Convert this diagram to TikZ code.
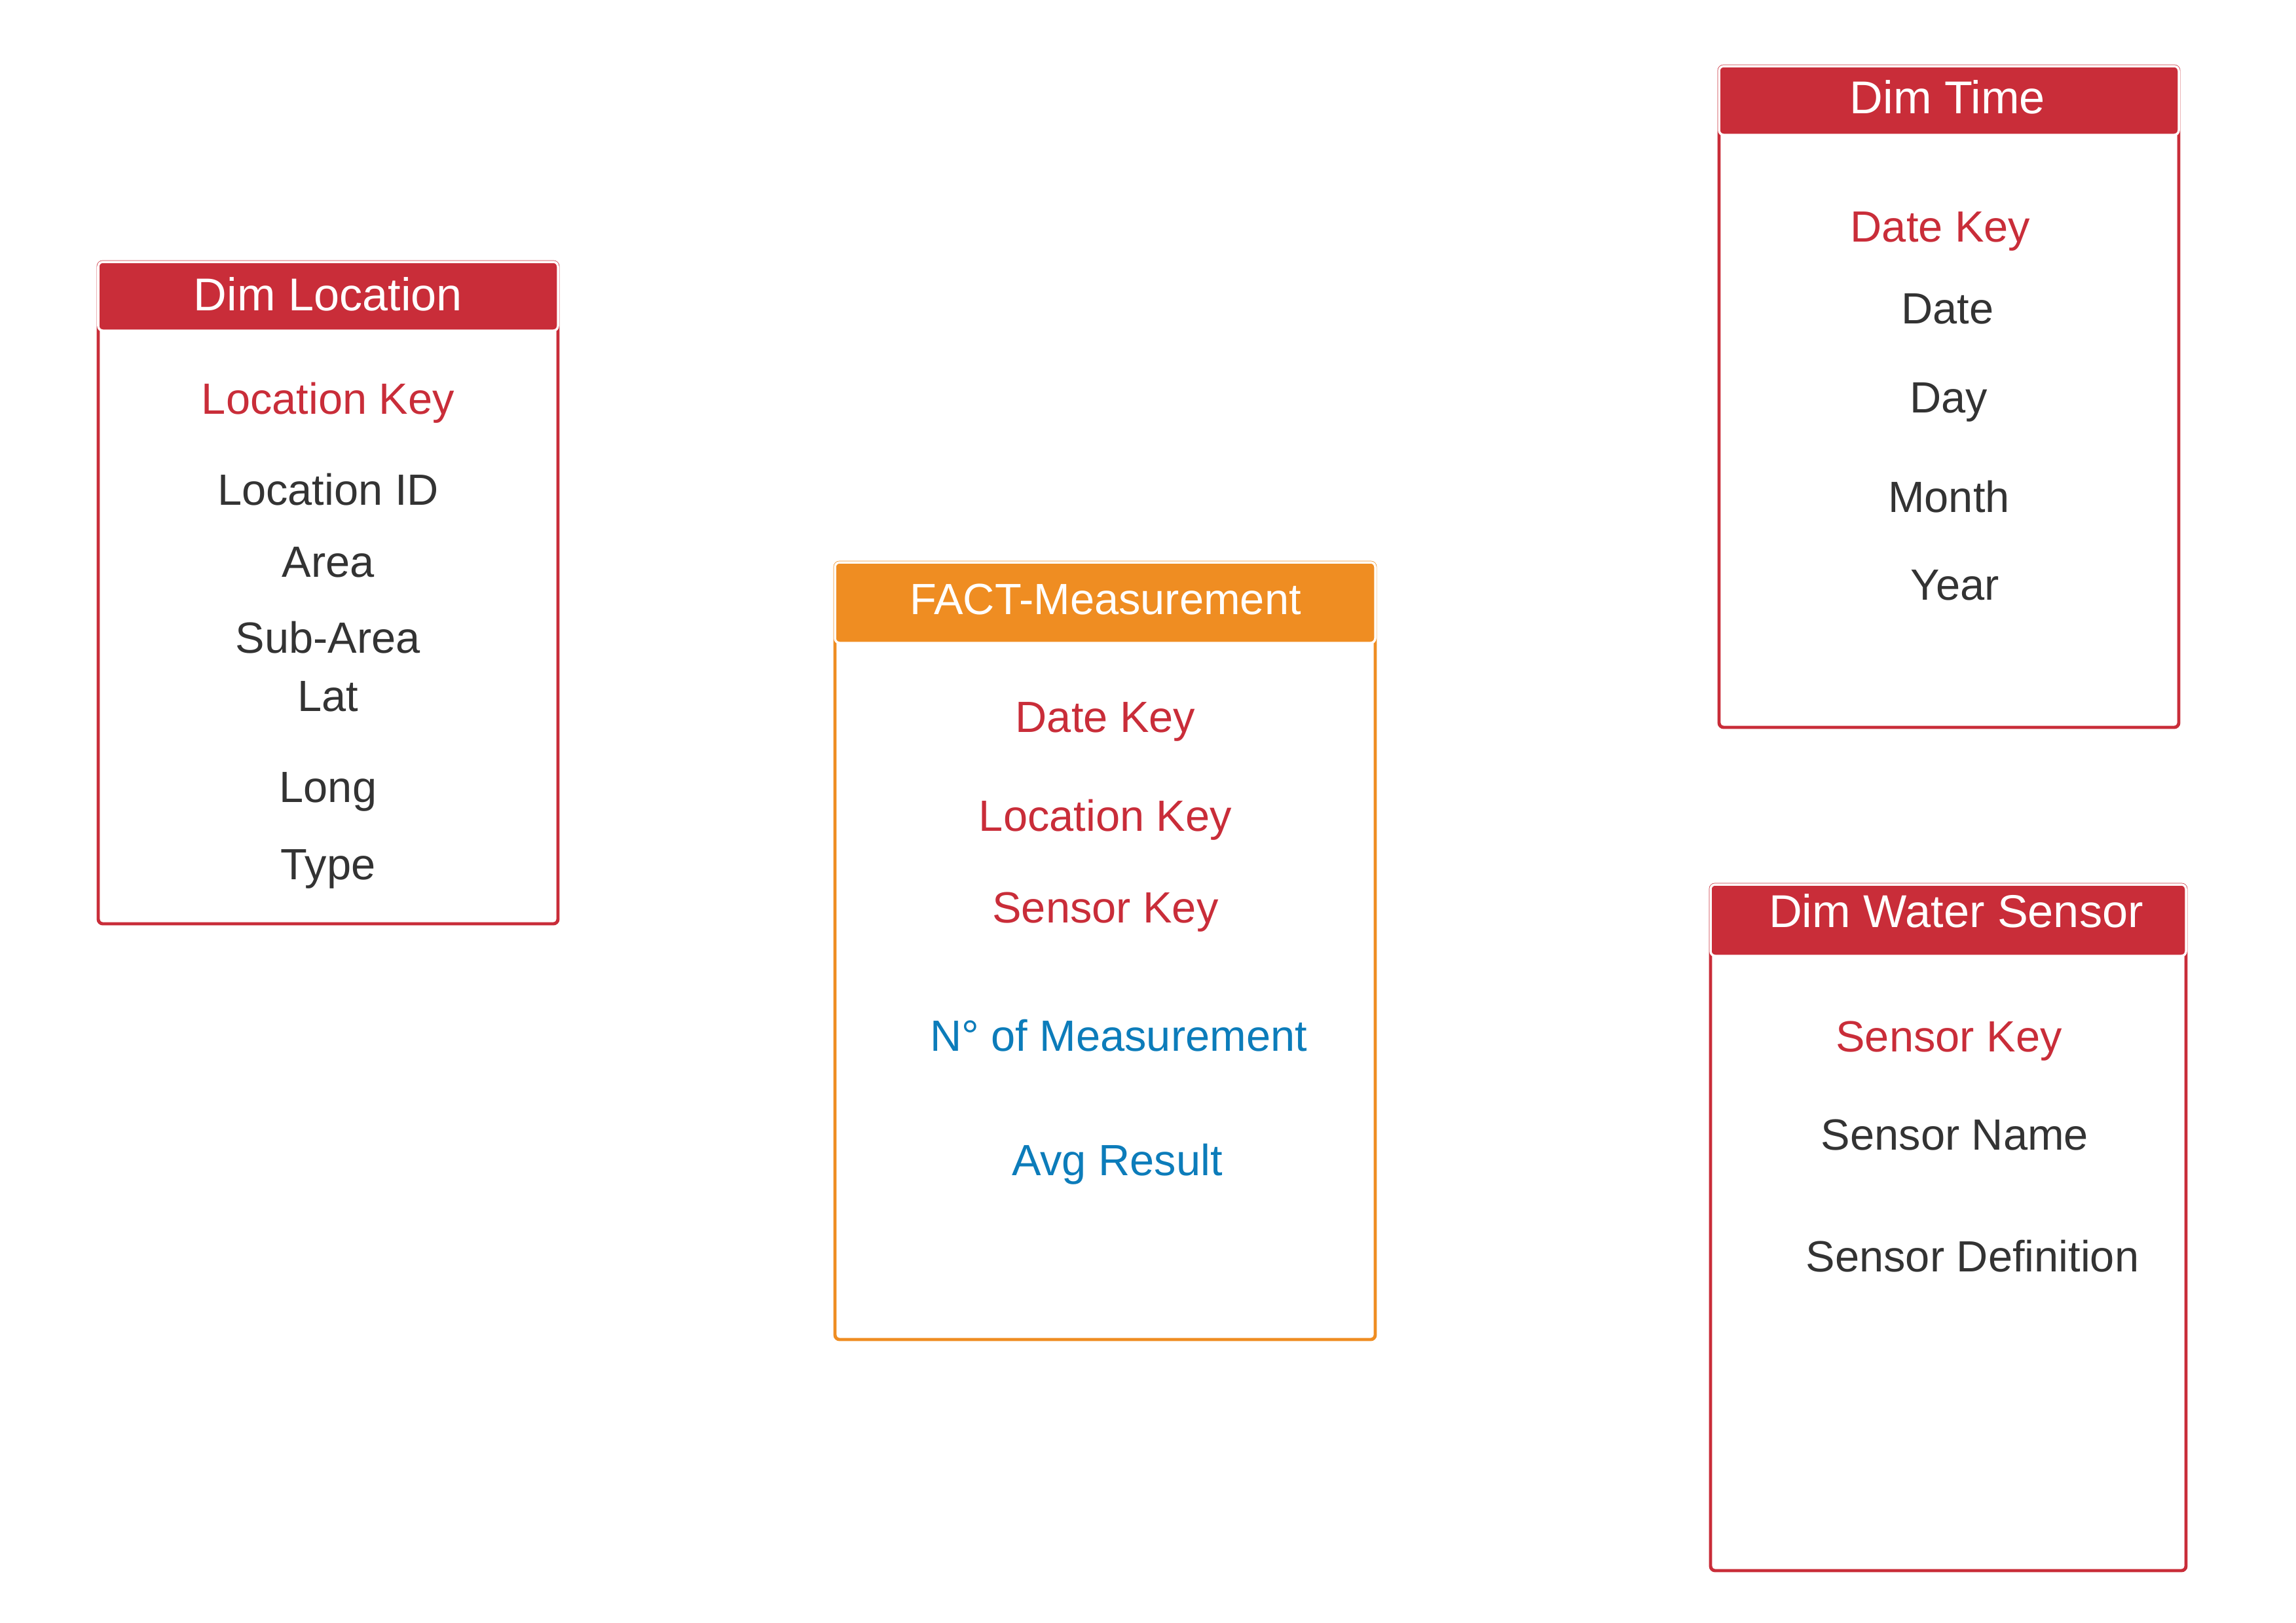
\documentclass[tikz,border=0pt]{standalone}
\usepackage{fontspec}
\setmainfont{Liberation Sans}
\definecolor{dimred}{HTML}{C92D39}
\definecolor{factorange}{HTML}{EF8D22}
\definecolor{measblue}{HTML}{0C7CBA}
\definecolor{fieldgrey}{HTML}{333333}
\begin{document}
\begin{tikzpicture}[y=-1cm,
	tablebox/.style={line width=1.4pt, rounded corners=2pt},
	tablehead/.style={draw=white, line width=1pt, rounded corners=2pt},
	headtext/.style={text=white, text depth=0pt, font=\fontsize{20}{24}\selectfont},
	keyfield/.style={text=dimred, text depth=0pt, font=\fontsize{19}{23}\selectfont},
	field/.style={text=fieldgrey, text depth=0pt, font=\fontsize{19}{23}\selectfont},
	measure/.style={text=measblue, text depth=0pt, font=\fontsize{19}{23}\selectfont}]
	\useasboundingbox (0,0) rectangle (35.06,24.79);
	
	% Dim Location
	\draw[tablebox, draw=dimred] (1.50,4.00) rectangle (8.52,14.11);
	\draw[tablehead, fill=dimred] (1.50,4.00) rectangle (8.52,5.05);
	\node[headtext] (loctitle) at (5.01,4.49) {Dim Location};
	\node[keyfield] (lockey) at (5.01,6.08) {Location Key};
	\node[field] (locid) at (5.01,7.47) {Location ID};
	\node[field] (locarea) at (5.01,8.59) {Area};
	\node[field] (locsub) at (5.01,9.73) {Sub-Area};
	\node[field] (loclat) at (5.01,10.64) {Lat};
	\node[field] (loclong) at (5.01,12.03) {Long};
	\node[field] (loctype) at (5.01,13.21) {Type};
	
	% Dim Time
	\draw[tablebox, draw=dimred] (26.25,1.01) rectangle (33.27,11.11);
	\draw[tablehead, fill=dimred] (26.25,1.01) rectangle (33.27,2.06);
	\node[headtext] (timetitle) at (29.74,1.48) {Dim Time};
	\node[keyfield] (timekey) at (29.63,3.47) {Date Key};
	\node[field] (timedate) at (29.74,4.72) {Date};
	\node[field] (timeday) at (29.76,6.08) {Day};
	\node[field] (timemonth) at (29.76,7.58) {Month};
	\node[field] (timeyear) at (29.85,8.94) {Year};
	
	% FACT-Measurement
	\draw[tablebox, draw=factorange] (12.75,8.59) rectangle (21.00,20.46);
	\draw[tablehead, fill=factorange] (12.75,8.59) rectangle (21.00,9.82);
	\node[headtext, font=\fontsize{19}{23}\selectfont] (facttitle) at (16.88,9.15) {FACT-Measurement};
	\node[keyfield] (factdate) at (16.88,10.96) {Date Key};
	\node[keyfield] (factloc) at (16.88,12.45) {Location Key};
	\node[keyfield] (factsensor) at (16.88,13.86) {Sensor Key};
	\node[measure] (factcount) at (17.08,15.81) {N° of Measurement};
	\node[measure] (factavg) at (17.06,17.71) {Avg Result};
	
	% Dim Water Sensor
	\draw[tablebox, draw=dimred] (26.12,13.51) rectangle (33.38,23.99);
	\draw[tablehead, fill=dimred] (26.12,13.51) rectangle (33.38,14.60);
	\node[headtext] (sensortitle) at (29.87,13.91) {Dim Water Sensor};
	\node[keyfield] (sensorkey) at (29.76,15.83) {Sensor Key};
	\node[field] (sensorname) at (29.85,17.33) {Sensor Name};
	\node[field] (sensordef) at (30.12,19.18) {Sensor Definition};
\end{tikzpicture}
\end{document}
